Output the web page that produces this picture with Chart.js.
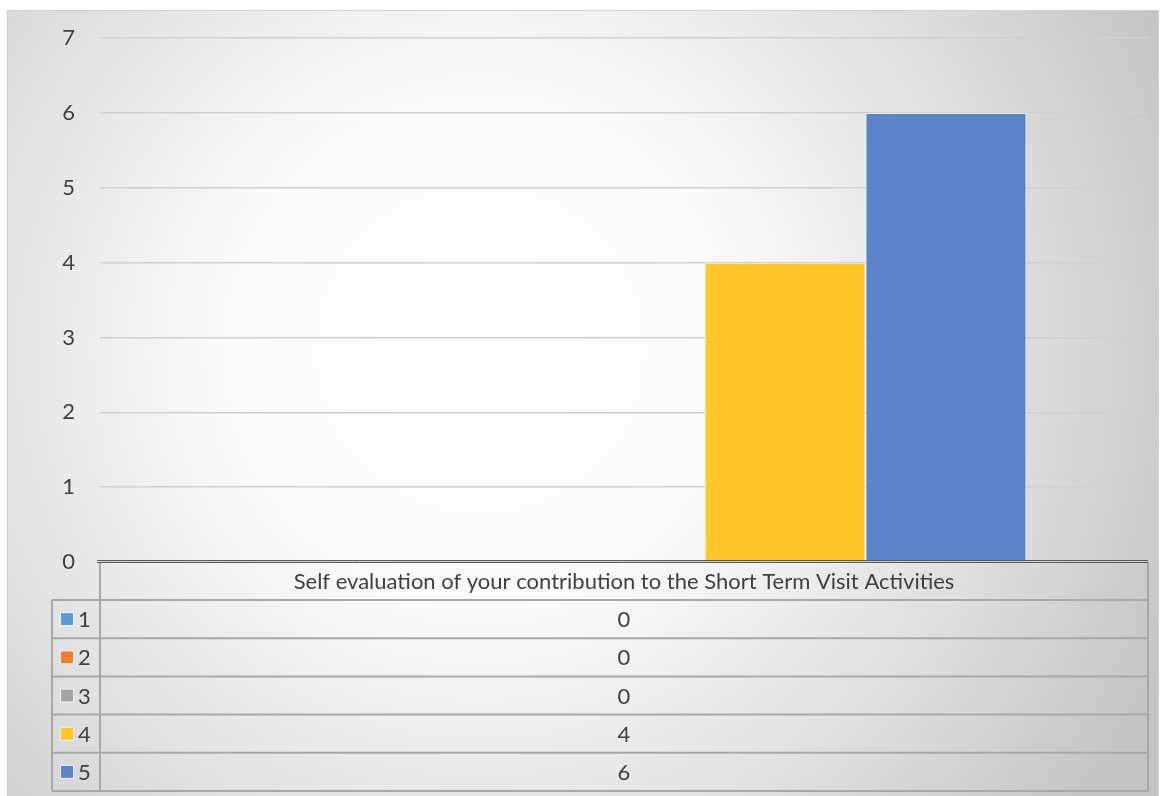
<!DOCTYPE html>
<html>
<head>
<meta charset="utf-8">
<script src="https://cdn.jsdelivr.net/npm/chart.js@4.4.1/dist/chart.umd.min.js"></script>
<style>
  body { margin: 0; background: #fff; }
  #chart { display: block; }
</style>
</head>
<body>
<canvas id="chart" width="1166" height="796"></canvas>
<script>
// data
const categories = ["Self evaluation of your contribution to the Short Term Visit Activities"];
const seriesNames = ["1", "2", "3", "4", "5"];
const seriesValues = [[0], [0], [0], [4], [6]];
const seriesColors = ["#5B9BD5", "#ED7D31", "#A5A5A5", "#FFC72A", "#5D83C9"];
const yTicks = [0, 1, 2, 3, 4, 5, 6, 7];

const FONT = "Lato, 'Open Sans', sans-serif";
const TEXT = "#404040";

// radial grey background like the office chart style
const backgroundPlugin = {
    id: "bg",
    beforeDraw(chart) {
        let c = chart.ctx;
        c.save();
        c.fillStyle = "#fff";
        c.fillRect(0, 0, chart.width, chart.height);
        let g = c.createRadialGradient(480, 350, 40, 480, 350, 760);
        g.addColorStop(0, "#ffffff");
        g.addColorStop(0.3, "#fbfbfb");
        g.addColorStop(0.7, "#dedede");
        g.addColorStop(1, "#c4c4c4");
        c.fillStyle = g;
        c.fillRect(7, 10, 1152, 786);
        c.strokeStyle = "#d0d0d0";
        c.lineWidth = 1;
        c.strokeRect(7.5, 10.5, 1151, 790);
        c.restore();
    }
};

// data table under the plot, built from the same arrays
const dataTablePlugin = {
    id: "dataTable",
    afterDraw(chart) {
        let c = chart.ctx;
        let area = chart.chartArea;
        let left = area.left, right = area.right, top = area.bottom;
        let headH = 38, rowH = 38.2;
        let keyLeft = 52;
        let rowsBottom = top + headH + rowH * seriesNames.length;
        c.save();
        c.strokeStyle = "#a8a8a8";
        c.lineWidth = 2;

        c.beginPath();
        c.moveTo(left, top);
        c.lineTo(left, rowsBottom);
        c.moveTo(right, top);
        c.lineTo(right, rowsBottom);
        for (let i = 0; i <= seriesNames.length; i++) {
            let y = top + headH + rowH * i;
            c.moveTo(keyLeft, y);
            c.lineTo(right, y);
        }
        c.moveTo(keyLeft, top + headH);
        c.lineTo(keyLeft, rowsBottom);
        c.stroke();

        c.font = "22px " + FONT;
        c.fillStyle = TEXT;
        c.textAlign = "center";
        c.textBaseline = "middle";
        c.fillText(categories[0], (left + right) / 2, top + headH / 2 + 1);

        seriesNames.forEach((name, i) => {
            let yMid = top + headH + rowH * i + rowH / 2;
            c.fillStyle = seriesColors[i];
            c.fillRect(61, yMid - 6, 12, 12);
            c.strokeStyle = "rgba(255,255,255,0.6)";
            c.lineWidth = 1;
            c.strokeRect(60.5, yMid - 6.5, 13, 13);
            c.fillStyle = TEXT;
            c.textAlign = "left";
            c.fillText(name, 78, yMid + 1);
            c.textAlign = "center";
            c.fillText(String(seriesValues[i][0]), (left + right) / 2, yMid + 1);
        });

        // axis line at zero
        let y0 = chart.scales.y.getPixelForValue(0);
        c.strokeStyle = "#5a5a5a";
        c.lineWidth = 1;
        c.beginPath();
        c.moveTo(97, y0 - 1.5);
        c.lineTo(right, y0 - 1.5);
        c.moveTo(97, y0 + 0.5);
        c.lineTo(right, y0 + 0.5);
        c.stroke();
        c.restore();
    }
};

let datasets = seriesNames.map((name, i) => ({
    label: name,
    data: seriesValues[i],
    backgroundColor: seriesColors[i],
    borderColor: "rgba(255,255,255,0.55)",
    borderWidth: 1,
    categoryPercentage: 0.768,
    barPercentage: 1.0
}));

new Chart(document.getElementById("chart"), {
    type: "bar",
    data: { labels: categories, datasets: datasets },
    options: {
        responsive: false,
        animation: false,
        layout: { padding: { top: 32, bottom: 234, right: 18, left: 0 } },
        plugins: {
            legend: { display: false },
            tooltip: { enabled: false }
        },
        scales: {
            x: { display: false },
            y: {
                min: 0,
                max: 7,
                afterBuildTicks(scale) {
                    scale.ticks = yTicks.map(v => ({ value: v }));
                },
                afterFit(scale) { scale.width = 100; },
                border: { display: false },
                grid: { color: "#d0d0d0", lineWidth: 1.5, drawTicks: false },
                ticks: {
                    padding: 25,
                    color: TEXT,
                    font: { family: FONT, size: 22 }
                }
            }
        }
    },
    plugins: [backgroundPlugin, dataTablePlugin]
});
</script>
</body>
</html>
